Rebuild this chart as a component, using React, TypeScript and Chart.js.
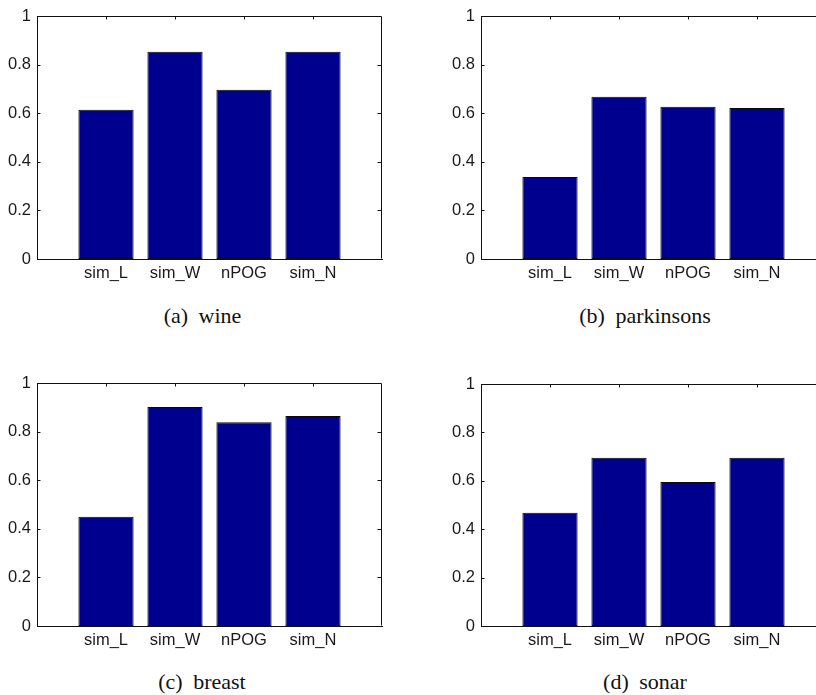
import React, { useEffect, useRef } from "react";
import { Chart, registerables } from "chart.js";

Chart.register(...registerables);

// ---- data ----
const categories = ["sim_L", "sim_W", "nPOG", "sim_N"];
const categoryPositions = [1, 2, 3, 4];
const wineValues = [0.614, 0.853, 0.697, 0.853];
const parkinsonsValues = [0.337, 0.668, 0.627, 0.621];
const breastValues = [0.45, 0.901, 0.838, 0.864];
const sonarValues = [0.468, 0.695, 0.595, 0.695];
const yTickValues = [0, 0.2, 0.4, 0.6, 0.8, 1];
const yTickLabels = ["0", "0.2", "0.4", "0.6", "0.8", "1"];
const captions = ["(a) wine", "(b) parkinsons", "(c) breast", "(d) sonar"];

const BAR_COLOR = "#00008f";
const AXIS_COLOR = "#111111";
const TICK_FONT = { family: "'Liberation Sans', Arial, sans-serif", size: 16.5 };

const framePlugin = {
  id: "matlabFrame",
  afterDraw(chart: any) {
    const { ctx, chartArea, scales } = chart;
    const { left, top, right, bottom } = chartArea;
    const L = Math.round(left) + 0.5;
    const T = Math.round(top) + 0.5;
    const R = Math.round(right) - 0.5;
    const B = Math.round(bottom) - 0.5;
    ctx.save();
    ctx.strokeStyle = AXIS_COLOR;
    ctx.lineWidth = 1;
    ctx.beginPath();
    ctx.moveTo(L, T);
    ctx.lineTo(R, T);
    ctx.moveTo(R, T);
    ctx.lineTo(R, B);
    // inward ticks on y axis (left & right)
    for (const v of yTickValues) {
      if (v === 0 || v === 1) continue;
      const py = Math.round(scales.y.getPixelForValue(v)) + 0.5;
      ctx.moveTo(L, py);
      ctx.lineTo(L + 3, py);
      ctx.moveTo(R, py);
      ctx.lineTo(R - 4, py);
    }
    // inward ticks on top axis
    for (const c of categoryPositions) {
      const px = Math.round(scales.x.getPixelForValue(c)) + 0.5;
      ctx.moveTo(px, T);
      ctx.lineTo(px, T + 3);
    }
    ctx.stroke();
    ctx.restore();
  },
};

type PanelProps = {
  values: number[];
  caption: string;
  left: number;
  top: number;
  width: number;
  height: number;
  area: { l: number; t: number; r: number; b: number };
  captionX: number;
  captionY: number;
};

function Panel({ values, caption, left, top, width, height, area, captionX, captionY }: PanelProps) {
  const ref = useRef<HTMLCanvasElement | null>(null);
  useEffect(() => {
    if (!ref.current) return;
    const chart = new Chart(ref.current, {
      type: "bar",
      data: {
        datasets: [
          {
            data: values.map((v, i) => ({ x: categoryPositions[i], y: v })),
            backgroundColor: BAR_COLOR,
            borderColor: "#0a0a0a",
            borderWidth: 1,
            borderSkipped: false,
            barPercentage: 0.8,
            categoryPercentage: 1,
          } as any,
        ],
      },
      options: {
        responsive: false,
        animation: false,
        events: [],
        layout: { padding: { top: area.t, right: width - area.r, bottom: 0, left: 0 } },
        plugins: { legend: { display: false }, tooltip: { enabled: false }, title: { display: false } },
        scales: {
          x: {
            type: "linear",
            min: 0,
            max: 5,
            offset: false,
            afterBuildTicks: (s: any) => {
              s.ticks = categoryPositions.map((v) => ({ value: v }));
            },
            afterFit: (s: any) => {
              s.height = height - area.b;
            },
            ticks: {
              callback: (v: any) => categories[categoryPositions.indexOf(Number(v))] ?? "",
              font: TICK_FONT,
              color: "#1a1a1a",
              padding: 5,
              maxRotation: 0,
              autoSkip: false,
            },
            grid: { display: false, drawTicks: false },
            border: { display: true, color: AXIS_COLOR, width: 1 },
          },
          y: {
            min: 0,
            max: 1,
            afterBuildTicks: (s: any) => {
              s.ticks = yTickValues.map((v) => ({ value: v }));
            },
            afterFit: (s: any) => {
              s.width = area.l;
            },
            ticks: {
              callback: (v: any) => yTickLabels[yTickValues.indexOf(Number(v))] ?? "",
              font: TICK_FONT,
              color: "#1a1a1a",
              padding: 6,
              autoSkip: false,
            },
            grid: { display: false, drawTicks: false },
            border: { display: true, color: AXIS_COLOR, width: 1 },
          },
        } as any,
      },
      plugins: [framePlugin],
    });
    return () => chart.destroy();
  }, []);

  return (
    <>
      <canvas
        ref={ref}
        width={width}
        height={height}
        style={{ position: "absolute", left, top, width, height }}
      />
      <div
        style={{
          position: "absolute",
          left: captionX - 150,
          top: captionY - 14,
          width: 300,
          textAlign: "center",
          fontFamily: "'Liberation Serif', 'Times New Roman', serif",
          fontSize: 22,
          lineHeight: "28px",
          wordSpacing: 5,
          color: "#111",
          whiteSpace: "nowrap",
        }}
      >
        {caption}
      </div>
    </>
  );
}

export default function App() {
  return (
    <div
      style={{
        position: "fixed",
        left: 0,
        top: 0,
        width: 816,
        height: 695,
        overflow: "hidden",
        background: "#fff",
      }}
    >
      <Panel
        values={wineValues}
        caption={captions[0]}
        left={0}
        top={0}
        width={408}
        height={300}
        area={{ l: 37, t: 16, r: 382, b: 259 }}
        captionX={202.5}
        captionY={316}
      />
      <Panel
        values={parkinsonsValues}
        caption={captions[1]}
        left={410}
        top={0}
        width={430}
        height={300}
        area={{ l: 71, t: 16, r: 416, b: 259 }}
        captionX={645}
        captionY={316}
      />
      <Panel
        values={breastValues}
        caption={captions[2]}
        left={0}
        top={360}
        width={408}
        height={300}
        area={{ l: 37, t: 23, r: 382, b: 266 }}
        captionX={202}
        captionY={682}
      />
      <Panel
        values={sonarValues}
        caption={captions[3]}
        left={410}
        top={360}
        width={430}
        height={300}
        area={{ l: 71, t: 24, r: 416, b: 266 }}
        captionX={645}
        captionY={682}
      />
    </div>
  );
}
